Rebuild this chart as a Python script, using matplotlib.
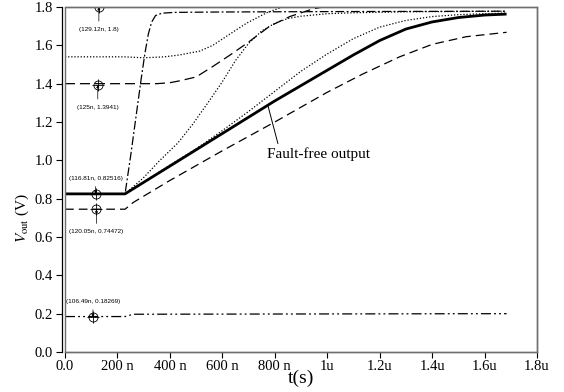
import matplotlib
matplotlib.use("Agg")
import matplotlib.pyplot as plt
from matplotlib.patches import Rectangle

plt.rcParams['mathtext.fontset'] = 'stix'
plt.rcParams['font.family'] = ['Liberation Serif', 'DejaVu Serif']

# ---- data (time in ns, voltage in V) ----
t_ff = [0, 229, 400, 600, 800, 1000, 1100, 1200, 1300, 1400, 1500, 1600, 1684]
v_ff = [0.825, 0.825, 0.97, 1.14, 1.31, 1.47, 1.55, 1.625, 1.685, 1.722, 1.745, 1.758, 1.763]

t_low = [0, 229, 260, 400, 600, 800, 1000, 1135, 1276, 1400, 1530, 1684]
v_low = [0.745, 0.745, 0.78, 0.895, 1.05, 1.2, 1.355, 1.45, 1.54, 1.605, 1.645, 1.668]

t_d = [0, 229, 400, 500, 600, 700, 800, 900, 1000, 1100, 1200, 1300, 1400, 1500, 1600, 1684]
v_d = [0.825, 0.825, 0.975, 1.06, 1.155, 1.255, 1.36, 1.465, 1.555, 1.635, 1.695, 1.73, 1.75, 1.76, 1.765, 1.768]

t_e = [0, 229, 300, 362, 430, 488, 550, 600, 650, 700, 750, 800, 850, 900, 1000, 1100, 1300, 1684]
v_e = [0.825, 0.825, 0.91, 1.0, 1.09, 1.19, 1.31, 1.41, 1.52, 1.61, 1.675, 1.715, 1.74, 1.752, 1.765, 1.77, 1.775, 1.778]

t_f = [0, 229, 250, 270, 290, 305, 318, 330, 345, 370, 420, 600, 1000, 1684]
v_f = [0.825, 0.825, 1.02, 1.22, 1.42, 1.56, 1.66, 1.72, 1.755, 1.768, 1.772, 1.774, 1.776, 1.778]

t_g = [0, 229, 300, 380, 438, 514, 564, 630, 693, 769, 819, 880, 950, 1684]
v_g = [1.54, 1.54, 1.535, 1.54, 1.55, 1.57, 1.60, 1.66, 1.716, 1.77, 1.795, 1.815, 1.83, 1.85]

t_h = [0, 229, 350, 400, 438, 500, 564, 630, 693, 781, 857, 945, 983, 1050, 1684]
v_h = [1.40, 1.40, 1.40, 1.405, 1.415, 1.435, 1.49, 1.55, 1.61, 1.70, 1.75, 1.79, 1.80, 1.82, 1.85]

t_a = [0, 229, 260, 1684]
v_a = [0.185, 0.185, 0.197, 0.2]

mk_t = [129.12, 125, 116.81, 120.05, 106.49]
mk_v = [1.8, 1.3941, 0.82516, 0.74472, 0.18269]
mk_lbl = ['(129.12n, 1.8)', '(125n, 1.3941)', '(116.81n, 0.82516)',
          '(120.05n, 0.74472)', '(106.49n, 0.18269)']
mk_dir = [-1, -1, 1, -1, 1]   # label above (+1) or below (-1)

x_ticks = [0, 200, 400, 600, 800, 1000, 1200, 1400, 1600, 1800]
x_labels = ['0.0', '200 n', '400 n', '600 n', '800 n', '1u', '1.2u', '1.4u', '1.6u', '1.8u']
y_ticks = [0.0, 0.2, 0.4, 0.6, 0.8, 1.0, 1.2, 1.4, 1.6, 1.8]
y_labels = ['0.0', '0.2', '0.4', '0.6', '0.8', '1.0', '1.2', '1.4', '1.6', '1.8']

# ---- figure ----
fig = plt.figure(figsize=(5.64, 3.92), dpi=100)
ax = fig.add_axes([65/564, 1-352/392, (537-65)/564, (352-7)/392])

k = 'black'
ax.plot(t_a, v_a, color=k, lw=0.9, ls=(0, (8, 2.5, 1.5, 2.5, 1.5, 2.5)))
ax.plot(t_low, v_low, color=k, lw=0.9, ls=(0, (7, 4)))
ax.plot(t_h, v_h, color=k, lw=0.9, ls=(0, (8, 4)))
ax.plot(t_g, v_g, color=k, lw=0.9, ls=(0, (1, 1.5)))
ax.plot(t_e, v_e, color=k, lw=0.9, ls=(0, (1, 1.5)))
ax.plot(t_d, v_d, color=k, lw=0.9, ls=(0, (1, 1.5)))
ax.plot(t_f, v_f, color=k, lw=0.9, ls=(0, (7, 2, 1.5, 2)))
ax.plot(t_ff, v_ff, color=k, lw=2.0, solid_capstyle='butt')

# markers with labels
for t, v, lbl, d in zip(mk_t, mk_v, mk_lbl, mk_dir):
    ax.plot([t], [v], marker='o', ms=6.5, mfc='none', mec=k, mew=0.6, zorder=5)
    ax.plot([t], [v], marker='+', ms=8, mec=k, mew=0.6, zorder=5)
    off = 11 if d > 0 else -16
    ax.annotate(lbl, xy=(t, v), xytext=(0, off), textcoords='offset points',
                ha='center', va='center', fontsize=4.6, family='Liberation Sans',
                arrowprops=dict(arrowstyle='-|>', lw=0.5, color=k, mutation_scale=4,
                                shrinkA=2, shrinkB=0))

ax.annotate('Fault-free output', xy=(773, 1.29), xytext=(769, 1.03),
            ha='left', va='center', fontsize=11,
            arrowprops=dict(arrowstyle='-', lw=0.7, color=k, relpos=(0.12, 1.0),
                            shrinkA=1, shrinkB=0))

ax.set_xlim(0, 1800)
ax.set_ylim(0, 1.8)
ax.set_xticks(x_ticks)
ax.set_xticklabels(x_labels)
ax.set_yticks(y_ticks)
ax.set_yticklabels(y_labels)
ax.tick_params(direction='out', length=4, width=0.8, labelsize=10.5, pad=2)

for s in ['top', 'right', 'bottom']:
    ax.spines[s].set_color('#6e6e6e')
    ax.spines[s].set_linewidth(1.0)
ax.spines['left'].set_position(('outward', 2.5))
ax.spines['left'].set_color(k)
ax.spines['left'].set_linewidth(0.9)
ax.add_patch(Rectangle((0, 0), 1, 1, transform=ax.transAxes, fill=False,
                       edgecolor='#6e6e6e', lw=1.0, clip_on=False, zorder=6))

ax.set_xlabel('t(s)', fontsize=14)
ax.xaxis.set_label_coords(0.5, -0.05)
fig.text(22/564, 1-218/392, r'$V_{\rm out}$ (V)', rotation=90, ha='center',
         va='center', fontsize=11)

fig.savefig('out.png', dpi=100)
